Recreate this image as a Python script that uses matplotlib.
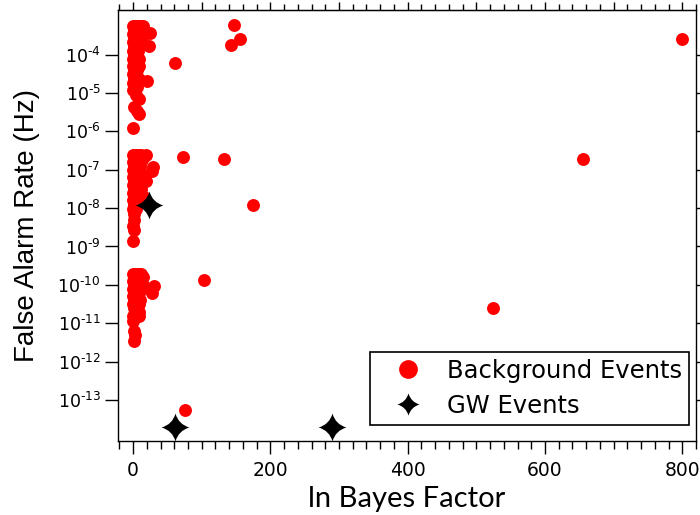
import numpy as np
import matplotlib
matplotlib.use('Agg')
import matplotlib.pyplot as plt
from matplotlib.path import Path
from matplotlib.ticker import MultipleLocator, FixedLocator, FuncFormatter, NullLocator

# background events: upper band (~1e-4)
bg_lnbf_hi = [0, 3, 6, 9, 12, 14, 1, 5, 8, 11, 15, 0, 4, 7, 10, 24, 2, 6, 9, 13,
              0, 4, 8, 1, 5, 23, 0, 3, 7, 2, 6, 0, 4, 9, 1, 5, 0, 3, 8, 2, 6,
              0, 4, 1, 7, 20, 10, 0, 3, 2, 6, 0, 4, 9, 2, 6, 8, 0,
              61, 147, 155, 142, 800]
bg_far_hi = [5.6e-4, 5.6e-4, 5.6e-4, 5.6e-4, 5.6e-4, 5.6e-4, 4.5e-4, 4.5e-4, 4.5e-4, 4.5e-4, 4.5e-4,
             3.5e-4, 3.5e-4, 3.5e-4, 3.5e-4, 3.7e-4, 2.8e-4, 2.8e-4, 2.8e-4, 2.8e-4,
             2.2e-4, 2.2e-4, 2.2e-4, 1.7e-4, 1.7e-4, 1.7e-4, 1.26e-4, 1.26e-4, 1.26e-4,
             1.0e-4, 1.0e-4, 7.9e-5, 7.9e-5, 7.9e-5, 6.3e-5, 6.3e-5, 5.0e-5, 5.0e-5, 5.0e-5,
             4.0e-5, 4.0e-5, 3.2e-5, 3.2e-5, 2.5e-5, 2.5e-5, 2.1e-5, 2.2e-5, 1.8e-5, 1.8e-5,
             1.4e-5, 1.4e-5, 1.2e-5, 8.9e-6, 6.9e-6, 4.4e-6, 3.5e-6, 2.8e-6, 1.2e-6,
             6.2e-5, 6.1e-4, 2.6e-4, 1.8e-4, 2.6e-4]

# middle band (~1e-7)
bg_lnbf_mid = [0, 3, 6, 9, 12, 19, 1, 5, 8, 14, 0, 4, 7, 11, 2, 6, 10, 29, 0, 4, 8, 28,
               1, 5, 12, 0, 3, 7, 2, 9, 19, 0, 5, 1, 4, 11, 0, 3, 7, 2, 16, 0, 5, 1,
               0, 4, 2, 1, 0, 2, 0,
               72, 133, 655, 175]
bg_far_mid = [2.4e-7, 2.4e-7, 2.4e-7, 2.4e-7, 2.4e-7, 2.4e-7, 2.0e-7, 2.0e-7, 2.0e-7, 2.0e-7,
              1.6e-7, 1.6e-7, 1.6e-7, 1.6e-7, 1.2e-7, 1.2e-7, 1.2e-7, 1.2e-7,
              1.0e-7, 1.0e-7, 1.0e-7, 9.5e-8, 7.9e-8, 7.9e-8, 7.9e-8, 6.3e-8, 6.3e-8, 6.3e-8,
              5.0e-8, 5.0e-8, 5.0e-8, 4.0e-8, 4.0e-8, 3.2e-8, 3.2e-8, 3.2e-8,
              2.5e-8, 2.5e-8, 2.5e-8, 2.0e-8, 2.0e-8, 1.6e-8, 1.6e-8, 1.26e-8,
              9.3e-9, 9.3e-9, 7.1e-9, 5.0e-9, 3.5e-9, 2.7e-9, 1.35e-9,
              2.2e-7, 1.9e-7, 1.9e-7, 1.2e-8]

# lower band (~1e-10)
bg_lnbf_lo = [0, 3, 6, 9, 12, 1, 5, 8, 14, 0, 4, 7, 11, 2, 6, 10, 15, 31, 0, 4, 8, 12,
              1, 5, 9, 28, 0, 3, 7, 2, 6, 10, 0, 4, 8, 1, 6, 3, 9, 0, 9, 0, 2, 3, 1,
              103, 524, 76]
bg_far_lo = [1.95e-10, 1.95e-10, 1.95e-10, 1.95e-10, 1.95e-10, 1.6e-10, 1.6e-10, 1.6e-10, 1.6e-10,
             1.26e-10, 1.26e-10, 1.26e-10, 1.26e-10, 1.0e-10, 1.0e-10, 1.0e-10, 1.0e-10, 9.1e-11,
             7.9e-11, 7.9e-11, 7.9e-11, 7.9e-11, 6.3e-11, 6.3e-11, 6.3e-11, 6.3e-11,
             5.0e-11, 5.0e-11, 5.0e-11, 4.0e-11, 4.0e-11, 4.0e-11, 3.2e-11, 3.2e-11, 3.2e-11,
             2.5e-11, 2.5e-11, 2.0e-11, 2.0e-11, 1.5e-11, 1.5e-11, 1.15e-11, 6.3e-12, 5.0e-12, 3.4e-12,
             1.3e-10, 2.5e-11, 5.5e-14]

gw_lnbf = [23, 61, 290]
gw_far = [1.2e-8, 2.0e-14, 2.0e-14]

ytick_exps = list(range(-13, -3))

bg_lnbf = bg_lnbf_hi + bg_lnbf_mid + bg_lnbf_lo
bg_far = bg_far_hi + bg_far_mid + bg_far_lo

# four pointed star with concave sides
c = 0.22
star = Path([(0, 1), (c, c), (1, 0), (c, -c), (0, -1), (-c, -c), (-1, 0), (-c, c), (0, 1), (0, 0)],
            [Path.MOVETO] + [Path.CURVE3] * 8 + [Path.CLOSEPOLY])


def fmt_pow(v, pos):
    # plain hyphen in the exponent, like the original
    return r'$10^{\mathrm{%s}%d}$' % ('\u2010', abs(round(np.log10(v))))


fig = plt.figure(figsize=(7, 5.15), dpi=100)
ax = fig.add_axes([118 / 700, 74 / 515, 578 / 700, 431 / 515])

ax.plot(bg_lnbf, bg_far, 'o', color='#ff0000', markersize=9.3, markeredgewidth=0,
        label='Background Events')
ax.plot(gw_lnbf, gw_far, ls='none', marker=star, color='black', markersize=20,
        markeredgewidth=0, label='GW Events')

ax.set_yscale('log')
ax.set_xlim(-22, 820)
ax.set_ylim(10 ** -14.07, 10 ** -2.836)

ax.xaxis.set_major_locator(MultipleLocator(200))
ax.xaxis.set_minor_locator(MultipleLocator(20))
ax.yaxis.set_major_locator(FixedLocator([10.0 ** e for e in ytick_exps]))
ax.yaxis.set_minor_locator(NullLocator())
ax.yaxis.set_major_formatter(FuncFormatter(fmt_pow))

ax.tick_params(axis='x', which='major', direction='out', length=9.4, width=1, pad=5,
               labelsize=13.5)
ax.tick_params(axis='x', which='minor', direction='out', length=5.5, width=1)
ax.tick_params(axis='y', which='major', direction='out', length=9.4, width=1, pad=3,
               labelsize=12.5)
ax.tick_params(axis='y', which='major', right=True)

sec = ax.secondary_xaxis('top')
sec.xaxis.set_major_locator(MultipleLocator(100))
sec.xaxis.set_minor_locator(MultipleLocator(20))
sec.tick_params(which='major', direction='out', length=5.8, width=1, labeltop=False)
sec.tick_params(which='minor', direction='out', length=4.5, width=1)

for s in ax.spines.values():
    s.set_linewidth(1)
    s.set_color('black')

ax.set_xlabel('ln Bayes Factor', fontsize=21, family='Lato')
ax.set_ylabel('False Alarm Rate (Hz)', fontsize=20, family='Liberation Sans')
ax.yaxis.set_label_coords(-0.135, 0.5)

leg = ax.legend(loc='lower right', bbox_to_anchor=(0.988, 0.037), borderaxespad=0,
                fontsize=17.5, fancybox=False, edgecolor='black', framealpha=1,
                borderpad=0.3, handlelength=2.5, handletextpad=0.35, labelspacing=0.45,
                numpoints=1)
leg.get_frame().set_linewidth(1.2)
leg.legend_handles[0].set_markersize(13.5)
leg.legend_handles[1].set_markersize(16)

fig.savefig('out.png', dpi=100)
